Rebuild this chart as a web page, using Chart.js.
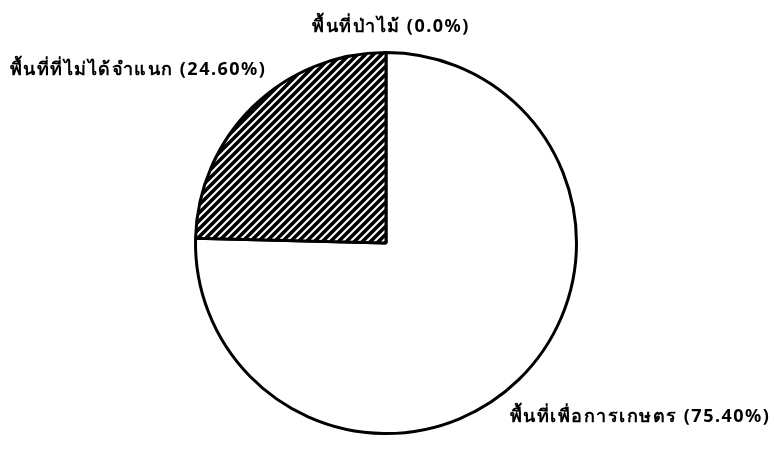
<!DOCTYPE html>
<html>
<head>
<meta charset="utf-8">
<script src="https://cdn.jsdelivr.net/npm/chart.js@4.4.1/dist/chart.umd.min.js"></script>
<style>
  html, body { margin: 0; padding: 0; background: #fff; }
  #wrap { width: 774px; height: 449px; }
</style>
</head>
<body>
<div id="wrap"><canvas id="pie" width="774" height="449"></canvas></div>
<script>
// land use shares (percent)
var categories = ['พื้นที่เพื่อการเกษตร', 'พื้นที่ที่ไม่ได้จำแนก', 'พื้นที่ป่าไม้'];
var shares = [75.40, 24.60, 0.0];
var shareLabels = ['(75.40%)', '(24.60%)', '(0.0%)'];

// diagonal hatch for the unclassified slice
function makeHatch() {
    var c = document.createElement('canvas');
    c.width = 8; c.height = 8;
    var g = c.getContext('2d');
    g.fillStyle = '#000';
    g.fillRect(0, 0, 8, 8);
    g.strokeStyle = '#fff';
    g.lineWidth = 2;
    g.beginPath();
    g.moveTo(-2, 10); g.lineTo(10, -2);
    g.moveTo(-6, 6); g.lineTo(6, -6);
    g.moveTo(2, 14); g.lineTo(14, 2);
    g.stroke();
    return g.createPattern(c, 'repeat');
}

var hatch = makeHatch();

// text next to each slice, offsets from pie centre
var sliceText = {
    id: 'sliceText',
    afterDraw: function(chart, args, opts) {
        var ctx = chart.ctx;
        var meta = chart.getDatasetMeta(0);
        var arc = meta.data[0];
        ctx.save();
        ctx.fillStyle = '#000';
        ctx.font = 'bold 18px "Noto Sans", "DejaVu Sans", sans-serif';
        ctx.letterSpacing = '1.5px';
        ctx.textAlign = 'center';
        ctx.textBaseline = 'middle';
        for (var i = 0; i < categories.length; i++) {
            var off = opts.offsets[i];
            ctx.fillText(categories[i] + ' ' + shareLabels[i], arc.x + off[0], arc.y + off[1]);
        }
        ctx.restore();
    }
};

var ctx = document.getElementById('pie').getContext('2d');
var pieChart = new Chart(ctx, {
    type: 'pie',
    data: {
        labels: categories,
        datasets: [{
            data: shares,
            backgroundColor: ['#ffffff', hatch, '#ffffff'],
            borderColor: '#000',
            borderWidth: 3
        }]
    },
    options: {
        responsive: false,
        animation: false,
        layout: { padding: { top: 51, bottom: 14, left: 0, right: 2 } },
        plugins: {
            legend: { display: false },
            tooltip: { enabled: false },
            sliceText: { offsets: [[254, 174], [-248, -173], [5, -216]] }
        }
    },
    plugins: [sliceText]
});
</script>
</body>
</html>
